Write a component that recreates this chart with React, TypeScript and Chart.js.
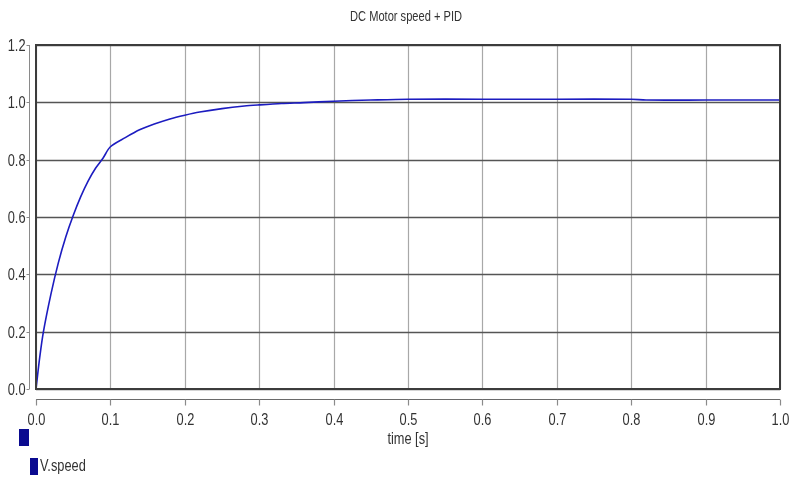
import React, { useEffect, useRef } from "react";
import { Chart, registerables } from "chart.js";

Chart.register(...registerables);

const chartTitle = "DC Motor speed + PID";
const xAxisLabel = "time [s]";
const seriesName = "V.speed";

const timeValues = [0, 0.005, 0.01, 0.02, 0.03, 0.04, 0.05, 0.06, 0.07, 0.08, 0.09, 0.1, 0.12, 0.14, 0.16, 0.18, 0.2, 0.22, 0.25, 0.28, 0.3, 0.33, 0.36, 0.4, 0.45, 0.5, 0.6, 0.7, 0.8, 0.82, 0.9, 1.0];
const speedValues = [0, 0.11, 0.2, 0.33, 0.44, 0.53, 0.605, 0.67, 0.725, 0.77, 0.805, 0.845, 0.877, 0.905, 0.925, 0.942, 0.955, 0.966, 0.978, 0.987, 0.991, 0.996, 0.999, 1.004, 1.008, 1.011, 1.011, 1.011, 1.011, 1.008, 1.008, 1.008];

const xTicks = [0, 0.1, 0.2, 0.3, 0.4, 0.5, 0.6, 0.7, 0.8, 0.9, 1.0];
const yTicks = [0, 0.2, 0.4, 0.6, 0.8, 1.0, 1.2];

const FONT = '"Liberation Sans Narrow", "Liberation Sans", Arial, sans-serif';

function narrowText(ctx: any, text: string, x: number, y: number, size: number, sx: number, align: string) {
  ctx.save();
  ctx.translate(x, y);
  ctx.scale(sx, 1);
  ctx.font = size + "px " + FONT;
  ctx.textAlign = align;
  ctx.textBaseline = "middle";
  ctx.fillText(text, 0, 0);
  ctx.restore();
}

const axesPlugin = {
  id: "customAxes",
  beforeDatasetsDraw(chart: any) {
    const { ctx, chartArea } = chart;
    const xs = chart.scales.x;
    const ys = chart.scales.y;
    ctx.save();
    ctx.strokeStyle = "#a8a8a8";
    ctx.lineWidth = 1.2;
    xTicks.forEach((t) => {
      const px = Math.round(xs.getPixelForValue(t)) + 0.5;
      ctx.beginPath();
      ctx.moveTo(px, chartArea.top);
      ctx.lineTo(px, chartArea.bottom);
      ctx.stroke();
    });
    ctx.strokeStyle = "#555555";
    ctx.lineWidth = 1.6;
    yTicks.forEach((t) => {
      const py = Math.round(ys.getPixelForValue(t)) + 0.5;
      ctx.beginPath();
      ctx.moveTo(chartArea.left, py);
      ctx.lineTo(chartArea.right, py);
      ctx.stroke();
    });
    ctx.restore();
  },
  afterDraw(chart: any) {
    const { ctx, chartArea } = chart;
    const xs = chart.scales.x;
    const ys = chart.scales.y;
    ctx.save();
    ctx.strokeStyle = "#3c3c3c";
    ctx.lineWidth = 2;
    ctx.strokeRect(chartArea.left, chartArea.top, chartArea.right - chartArea.left, chartArea.bottom - chartArea.top);

    // y axis line (offset from plot box)
    const yAxisX = chartArea.left - 6.5;
    ctx.strokeStyle = "#8a8a8a";
    ctx.lineWidth = 1;
    ctx.beginPath();
    ctx.moveTo(yAxisX, ys.getPixelForValue(1.2));
    ctx.lineTo(yAxisX, ys.getPixelForValue(0));
    ctx.stroke();
    ctx.fillStyle = "#333333";
    yTicks.forEach((t) => {
      const py = Math.round(ys.getPixelForValue(t)) + 0.5;
      ctx.beginPath();
      ctx.moveTo(yAxisX - 3, py);
      ctx.lineTo(yAxisX, py);
      ctx.stroke();
      narrowText(ctx, t.toFixed(1), yAxisX - 4, py + 1, 16, 0.8, "right");
    });

    // x axis line (offset from plot box)
    const xAxisY = chartArea.bottom + 10.5;
    ctx.strokeStyle = "#6a6a6a";
    ctx.lineWidth = 1.2;
    ctx.beginPath();
    ctx.moveTo(xs.getPixelForValue(0), xAxisY);
    ctx.lineTo(xs.getPixelForValue(1), xAxisY);
    ctx.stroke();
    xTicks.forEach((t) => {
      const px = Math.round(xs.getPixelForValue(t)) + 0.5;
      ctx.strokeStyle = "#8a8a8a";
      ctx.beginPath();
      ctx.moveTo(px, xAxisY);
      ctx.lineTo(px, xAxisY + 6);
      ctx.stroke();
      narrowText(ctx, t.toFixed(1), px, xAxisY + 21, 16, 0.8, "center");
    });

    narrowText(ctx, xAxisLabel, 408, xAxisY + 40, 16, 0.8, "center");

    narrowText(ctx, chartTitle, 406, 17, 15, 0.74, "center");

    // legend
    ctx.fillStyle = "#0a0a90";
    ctx.fillRect(19, 429, 10, 17);
    ctx.fillRect(30, 458, 8, 17);
    ctx.fillStyle = "#333333";
    narrowText(ctx, seriesName, 40, 467, 16, 0.8, "left");

    ctx.restore();
  },
};

export default function App() {
  const canvasRef = useRef<HTMLCanvasElement | null>(null);

  useEffect(() => {
    if (!canvasRef.current) return;
    const chart = new Chart(canvasRef.current, {
      type: "line",
      data: {
        datasets: [
          {
            label: seriesName,
            data: timeValues.map((t, i) => ({ x: t, y: speedValues[i] })),
            borderColor: "#1c1cc0",
            borderWidth: 1.6,
            pointRadius: 0,
            tension: 0.3,
            fill: false,
          },
        ],
      },
      options: {
        responsive: false,
        animation: false,
        layout: { padding: { left: 36, right: 10, top: 45, bottom: 90 } },
        plugins: {
          legend: { display: false },
          title: { display: false },
          tooltip: { enabled: false },
        },
        scales: {
          x: { type: "linear", min: 0, max: 1, display: false },
          y: { type: "linear", min: 0, max: 1.2, display: false },
        },
      },
      plugins: [axesPlugin],
    });
    return () => chart.destroy();
  }, []);

  return (
    <div style={{ position: "fixed", left: 0, top: 0, width: 790, height: 479, background: "#ffffff" }}>
      <canvas ref={canvasRef} width={790} height={479} />
    </div>
  );
}
